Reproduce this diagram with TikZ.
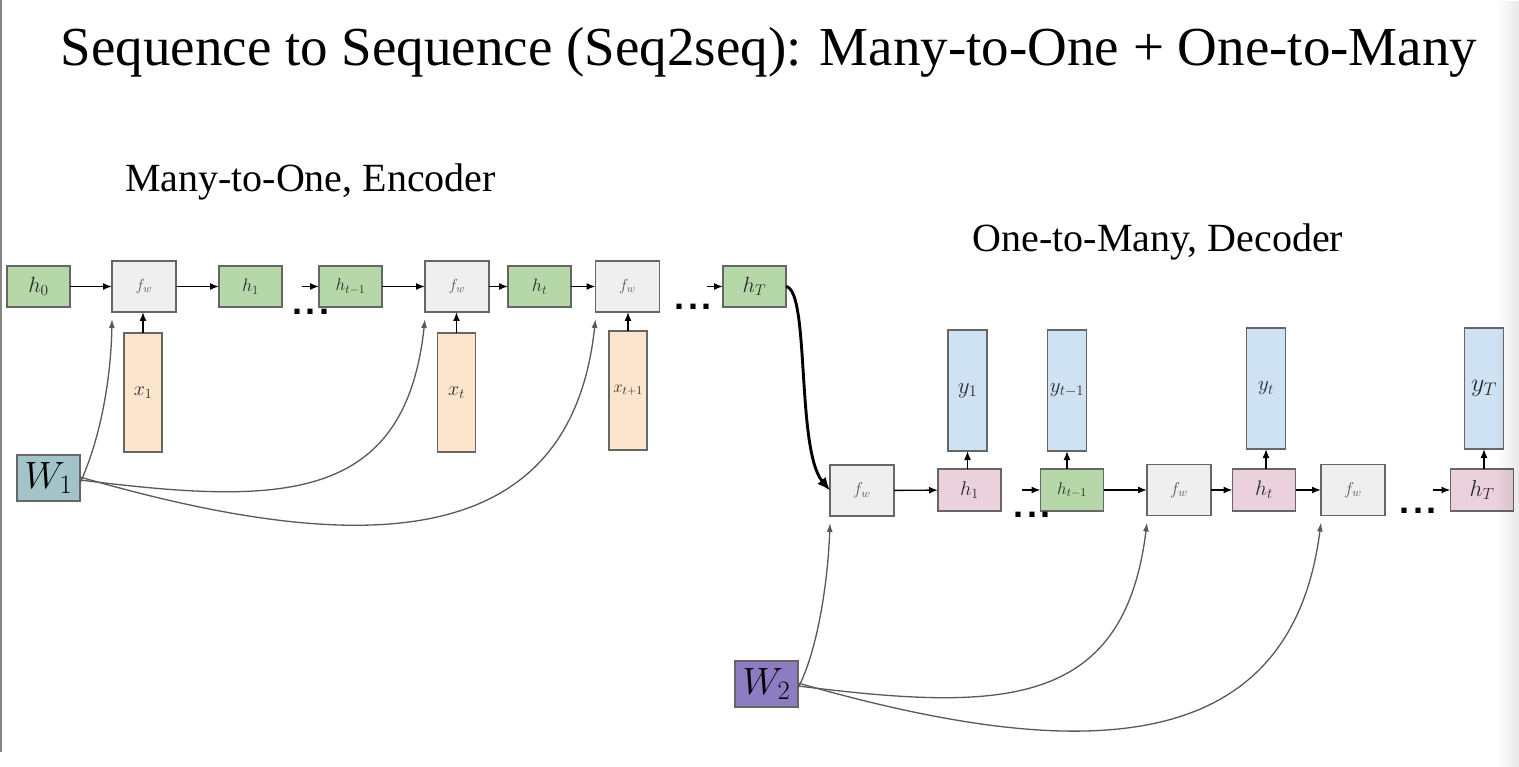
\RequirePackage{fix-cm}
\documentclass[tikz,border=0pt]{standalone}
\usepackage{fontspec}
\setmainfont{Liberation Serif}
\newfontfamily\dotfont{Liberation Sans Bold}
\usetikzlibrary{arrows.meta,fadings}
\definecolor{greenfill}{HTML}{B6D7A8}
\definecolor{grayfill}{HTML}{EFEFEF}
\definecolor{peachfill}{HTML}{FCE5CD}
\definecolor{bluefill}{HTML}{CFE2F3}
\definecolor{pinkfill}{HTML}{EAD1DC}
\definecolor{wonefill}{HTML}{A2C4C9}
\definecolor{wtwofill}{HTML}{8E7CC3}
\definecolor{bordergray}{HTML}{666666}
\definecolor{curvegray}{HTML}{595959}
\definecolor{boxtext}{HTML}{2B2B2B}
\newcommand{\fsz}[1]{\fontsize{#1}{#1}\selectfont}
\tikzset{
  cell/.style={draw=bordergray, line width=1.5pt, inner sep=0pt, outer sep=0pt, text=boxtext},
  hgreen/.style={cell, fill=greenfill, minimum width=63pt, minimum height=41pt},
  hpink/.style={cell, fill=pinkfill, minimum width=63pt, minimum height=42pt},
  hgreend/.style={cell, fill=greenfill, minimum width=63pt, minimum height=42pt},
  fwbox/.style={cell, fill=grayfill, minimum width=64pt, minimum height=51pt, text=curvegray},
  xbox/.style={cell, fill=peachfill, minimum width=38pt, minimum height=119pt},
  ybox/.style={cell, fill=bluefill, minimum width=39pt, minimum height=121pt},
  wbox/.style={cell, minimum width=63pt, minimum height=46pt, text=black},
  arr/.style={-{Latex[length=9pt,width=7pt]}, line width=1.4pt, black},
  warr/.style={-{Latex[length=9pt,width=6pt]}, line width=1.3pt, curvegray},
  bigarr/.style={-{Latex[length=13pt,width=11pt]}, line width=2.9pt, black},
  dotsnode/.style={inner sep=0pt, anchor=center, font=\dotfont\fsz{36}},
  heading/.style={inner sep=0pt, anchor=base, font=\fsz{40}},
}
\begin{document}
\begin{tikzpicture}[x=1pt,y=-1pt]
\useasboundingbox (0,0) rectangle (1519,767);
\fill[white] (0,0) rectangle (1519,767);
\draw[bordergray!80, line width=1.5pt] (1,0) -- (1,752);

% title and headings
\node[inner sep=0pt, anchor=base, font=\fsz{55}] (title) at (769,66) {Sequence to Sequence (Seq2seq): Many-to-One + One-to-Many};
\node[heading] (enclabel) at (310.5,192) {Many-to-One, Encoder};
\node[heading] (declabel) at (1158,252) {One-to-Many, Decoder};

% encoder
\node[hgreen] (h0) at (38.5,286.5) {\fsz{22}$h_0$};
\node[fwbox] (fw1) at (144,286.5) {\fsz{16}$f_w$};
\node[hgreen] (h1) at (250.5,286.5) {\fsz{18}$h_1$};
\node[hgreen] (htm) at (350.5,286.5) {\fsz{17}$h_{t-1}$};
\node[fwbox] (fw2) at (457,286.5) {\fsz{16}$f_w$};
\node[hgreen] (ht) at (539.5,286.5) {\fsz{18}$h_t$};
\node[fwbox] (fw3) at (627.5,286.5) {\fsz{16}$f_w$};
\node[hgreen] (hT) at (754.5,286.5) {\fsz{22}$h_T$};
\node[xbox] (x1) at (143,392.5) {\fsz{20}$x_1$};
\node[xbox] (xt) at (456.5,392.5) {\fsz{20}$x_t$};
\node[xbox] (xtp) at (628,390.5) {\fsz{17}$x_{t+1}$};
\node[wbox, fill=wonefill] (W1) at (48.5,478) {\fsz{38}$W_1$};

\node[dotsnode] (dotsa) at (311,312) {.\kern3.5pt.\kern3.5pt.};
\node[dotsnode] (dotsb) at (693,307) {.\kern3.5pt.\kern3.5pt.};
\coordinate (ina) at (302,286.5);
\coordinate (inb) at (707,286.5);

\draw[arr] (h0) -- (fw1);
\draw[arr] (fw1) -- (h1);
\draw[arr] (ina) -- (htm);
\draw[arr] (htm) -- (fw2);
\draw[arr] (fw2) -- (ht);
\draw[arr] (ht) -- (fw3);
\draw[arr] (inb) -- (hT);
\draw[arr] (x1.north) -- (x1.north |- fw1.south);
\draw[arr] (xt.north) -- (xt.north |- fw2.south);
\draw[arr] (xtp.north) -- (xtp.north |- fw3.south);

\coordinate (fw1t) at ([yshift=-7pt]fw1.south west);
\coordinate (fw2t) at ([yshift=-7pt]fw2.south west);
\coordinate (fw3t) at ([yshift=-7pt]fw3.south west);
\draw[warr] ([yshift=-5pt]W1.east) .. controls (100,440) and (111,380) .. (fw1t);
\draw[warr] ([yshift=-2pt]W1.east) .. controls (280,505) and (405,505) .. (fw2t);
\draw[warr] ([yshift=1pt]W1.east) .. controls (350,555) and (570,560) .. (fw3t);

% decoder
\node[fwbox] (fwd1) at (862,490.5) {\fsz{17}$f_w$};
\node[hpink] (h1d) at (969.5,490) {\fsz{20}$h_1$};
\node[hgreend] (htmd) at (1072,490) {\fsz{17}$h_{t-1}$};
\node[fwbox] (fwd2) at (1179,490) {\fsz{17}$f_w$};
\node[hpink] (htd) at (1264,490) {\fsz{21}$h_t$};
\node[fwbox] (fwd3) at (1353,490) {\fsz{17}$f_w$};
\node[hpink] (hTd) at (1482,490) {\fsz{23}$h_T$};
\node[ybox] (y1) at (967.5,390.5) {\fsz{23}$y_1$};
\node[ybox] (ytm) at (1067,390.5) {\fsz{21}$y_{t-1}$};
\node[ybox] (yt) at (1266,388.5) {\fsz{21}$y_t$};
\node[ybox] (yT) at (1484,388.5) {\fsz{26}$y_T$};
\node[wbox, fill=wtwofill] (W2) at (766.5,684) {\fsz{38}$W_2$};

\node[dotsnode] (dotsc) at (1032,515) {.\kern3.5pt.\kern3.5pt.};
\node[dotsnode] (dotsd) at (1418,511) {.\kern3.5pt.\kern3.5pt.};
\coordinate (inc) at (1022,490);
\coordinate (ind) at (1433,490);

\draw[arr] (fwd1) -- (h1d);
\draw[arr] (inc) -- (htmd);
\draw[arr] (htmd) -- (fwd2);
\draw[arr] (fwd2) -- (htd);
\draw[arr] (htd) -- (fwd3);
\draw[arr] (ind) -- (hTd);
\draw[arr] (y1.south |- h1d.north) -- (y1.south);
\draw[arr] (ytm.south |- htmd.north) -- (ytm.south);
\draw[arr] (yt.south |- htd.north) -- (yt.south);
\draw[arr] (yT.south |- hTd.north) -- (yT.south);

\coordinate (fwd1t) at ([yshift=-7pt]fwd1.south west);
\coordinate (fwd2t) at ([yshift=-7pt]fwd2.south west);
\coordinate (fwd3t) at ([yshift=-7pt]fwd3.south west);
\draw[warr] ([yshift=-4pt]W2.east) .. controls (818,650) and (828,580) .. (fwd1t);
\draw[warr] ([yshift=-2pt]W2.east) .. controls (999,711) and (1124,711) .. (fwd2t);
\draw[warr] ([yshift=1pt]W2.east) .. controls (1070,761) and (1290,766) .. (fwd3t);

% encoder to decoder
\draw[bigarr] (hT.east) .. controls (810,290) and (796,450) .. (fwd1.west);

% right edge shade
\fill[black, opacity=0.09, path fading=west] (1496,0) rectangle (1519,767);
\end{tikzpicture}
\end{document}
